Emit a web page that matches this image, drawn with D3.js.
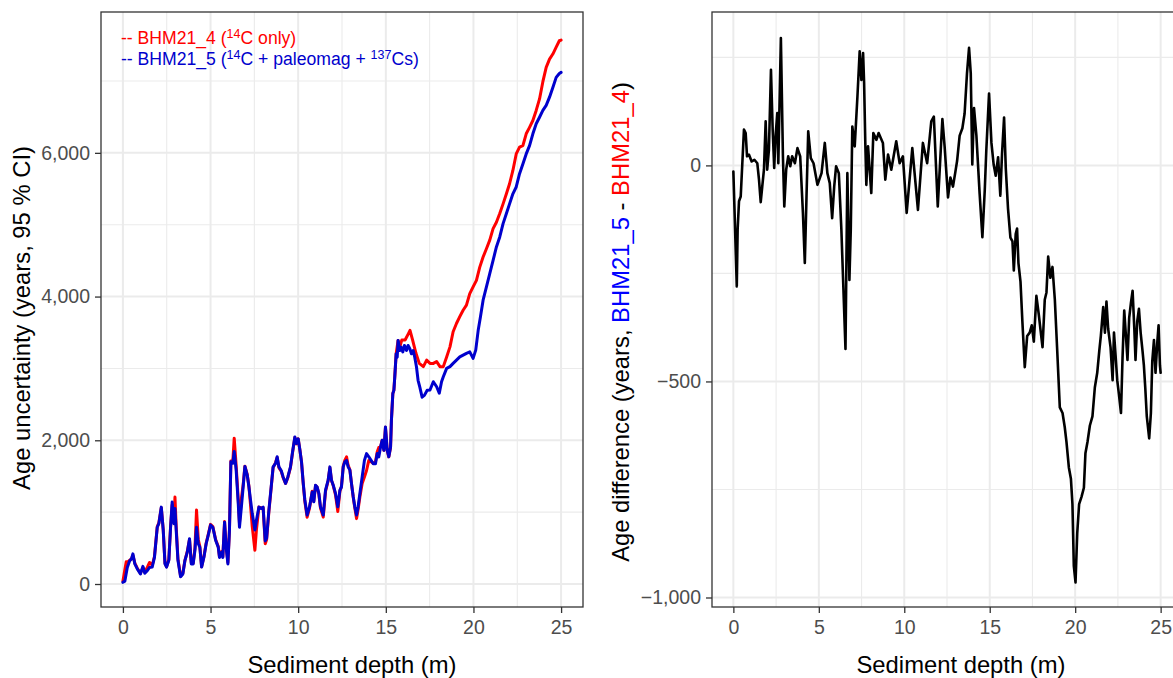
<!DOCTYPE html>
<html>
<head>
<meta charset="utf-8">
<script src="https://cdn.jsdelivr.net/npm/d3@7"></script>
<style>
  html, body { margin: 0; padding: 0; background: #fff; }
  svg { display: block; font-family: "Liberation Sans", Arial, Helvetica, sans-serif; }
</style>
</head>
<body>
<svg id="chart" width="1173" height="678"></svg>
<script>
// Age-depth model comparison: 95 % CI width for two Bayesian models (left)
// and the age difference between them (right).

// ---- BHM21_4 (14C only): depth (m) and age uncertainty (years, 95 % CI)
const depthBHM21_4 = [0,0.11,0.19,0.25,0.38,0.49,0.57,0.68,0.82,1.0,1.14,1.25,1.39,1.52,1.67,1.8,1.96,2.05,2.19,2.3,2.4,2.49,2.62,2.72,2.81,2.91,2.97,3.04,3.14,3.29,3.42,3.54,3.67,3.8,3.9,4.01,4.11,4.2,4.3,4.39,4.49,4.62,4.75,4.87,5.0,5.13,5.29,5.44,5.51,5.63,5.7,5.8,5.89,5.99,6.08,6.16,6.27,6.35,6.46,6.58,6.65,6.77,6.86,6.96,7.09,7.19,7.28,7.38,7.53,7.62,7.76,7.89,8.0,8.12,8.2,8.33,8.46,8.57,8.71,8.8,8.9,9.03,9.14,9.28,9.41,9.56,9.68,9.81,9.9,10.0,10.1,10.19,10.29,10.38,10.51,10.65,10.8,10.89,10.99,11.08,11.18,11.27,11.43,11.56,11.71,11.81,11.9,12.0,12.13,12.26,12.38,12.47,12.57,12.66,12.76,12.85,12.95,13.04,13.14,13.23,13.33,13.42,13.52,13.65,13.78,13.9,14.03,14.16,14.28,14.41,14.51,14.6,14.7,14.79,14.89,14.98,15.08,15.17,15.27,15.32,15.4,15.46,15.51,15.59,15.7,15.8,15.91,16.1,16.29,16.38,16.53,16.72,16.91,17.14,17.33,17.52,17.71,17.9,18.09,18.28,18.47,18.66,18.84,19.03,19.22,19.41,19.6,19.79,19.98,20.17,20.36,20.55,20.74,20.93,21.12,21.31,21.5,21.69,21.88,22.06,22.25,22.44,22.63,22.82,23.01,23.2,23.39,23.58,23.77,23.96,24.15,24.34,24.53,24.72,24.9,25.0];
const ciBHM21_4 = [40,200,310,300,330,350,400,290,220,150,230,170,230,300,260,380,800,850,1060,760,290,240,340,800,1100,870,1210,800,350,110,150,330,450,620,300,290,500,1030,620,520,240,380,570,690,830,800,620,520,380,450,380,870,520,300,760,1710,1700,2030,1650,1180,850,1210,1380,1640,1530,1360,1100,800,470,760,1070,1060,1060,560,620,1010,1340,1620,1690,1760,1620,1570,1480,1400,1480,1620,1830,2040,1950,2020,1860,1700,1390,1150,930,1060,1290,1150,1370,1350,1250,1060,930,1290,1440,1620,1440,1370,1240,1010,1290,1360,1640,1720,1770,1650,1590,1400,1210,1060,910,1040,1210,1400,1490,1580,1720,1700,1680,1700,1840,1900,1910,2000,1860,2180,1860,1770,1900,2280,2650,2700,2880,3205,3390,3300,3395,3395,3485,3530,3395,3210,3070,3025,3115,3070,3070,3095,3025,3025,3160,3300,3510,3625,3720,3810,3880,4040,4135,4225,4410,4550,4665,4785,4945,5035,5155,5290,5430,5570,5755,5985,6080,6100,6265,6355,6450,6590,6750,6990,7190,7305,7375,7470,7560,7570];

// ---- BHM21_5 (14C + paleomag + 137Cs)
const depthBHM21_5 = [0,0.11,0.25,0.38,0.49,0.57,0.68,0.82,1.0,1.14,1.25,1.39,1.52,1.67,1.8,1.96,2.05,2.19,2.3,2.4,2.49,2.62,2.72,2.81,2.91,2.97,3.04,3.14,3.29,3.42,3.54,3.67,3.8,3.9,4.01,4.11,4.2,4.3,4.39,4.49,4.62,4.75,4.87,5.0,5.13,5.29,5.44,5.51,5.63,5.7,5.8,5.89,5.99,6.08,6.16,6.27,6.35,6.46,6.58,6.65,6.77,6.86,6.96,7.09,7.19,7.28,7.38,7.53,7.62,7.76,7.89,8.0,8.12,8.2,8.33,8.46,8.57,8.71,8.8,8.9,9.03,9.14,9.28,9.41,9.56,9.68,9.81,9.9,10.0,10.1,10.19,10.29,10.38,10.51,10.65,10.8,10.89,10.99,11.08,11.18,11.27,11.43,11.56,11.71,11.81,11.9,12.0,12.13,12.26,12.38,12.47,12.57,12.66,12.76,12.85,12.95,13.04,13.14,13.23,13.33,13.42,13.52,13.65,13.78,13.9,14.03,14.16,14.28,14.41,14.51,14.6,14.7,14.79,14.89,14.98,15.08,15.17,15.27,15.32,15.4,15.46,15.51,15.59,15.65,15.7,15.8,15.87,15.97,16.06,16.18,16.27,16.37,16.46,16.56,16.65,16.75,16.84,16.94,17.07,17.2,17.36,17.52,17.71,17.9,18.05,18.18,18.28,18.47,18.66,18.84,19.03,19.22,19.41,19.6,19.79,19.98,20.13,20.27,20.4,20.55,20.74,20.93,21.12,21.31,21.5,21.69,21.88,22.06,22.25,22.44,22.63,22.82,23.01,23.2,23.39,23.58,23.77,23.96,24.15,24.34,24.53,24.72,24.9,25.0];
const ciBHM21_5 = [23,40,230,320,350,420,280,210,140,245,150,185,230,235,370,790,840,1070,750,280,235,330,790,1140,840,1050,750,330,100,140,330,440,630,280,280,470,790,560,510,235,370,560,680,820,790,610,510,370,440,370,860,510,280,750,1700,1680,1845,1590,1120,790,1100,1350,1635,1520,1350,1170,980,750,890,1070,1050,1070,600,640,1030,1350,1630,1680,1770,1630,1580,1490,1400,1490,1630,1840,2045,1955,2020,1860,1700,1400,1170,960,1075,1280,1145,1375,1350,1260,1075,960,1305,1445,1630,1445,1375,1260,1075,1305,1350,1630,1700,1720,1630,1585,1400,1215,1075,960,1075,1260,1490,1720,1815,1770,1720,1675,1675,1815,1770,1905,2000,1860,2185,1860,1770,1905,2280,2650,2695,2880,3205,3155,3390,3250,3295,3230,3320,3250,3320,3275,3205,3250,3155,3020,2835,2740,2600,2625,2695,2700,2815,2745,2655,2815,2885,3000,3025,3070,3115,3160,3185,3210,3230,3140,3255,3530,3720,3950,4135,4320,4505,4690,4830,5015,5155,5290,5430,5525,5710,5845,5985,6100,6265,6405,6495,6590,6660,6775,6910,7050,7105,7120];

// ---- Age difference BHM21_5 - BHM21_4 (years)
const depthDiff = [0,0.2,0.25,0.33,0.43,0.62,0.72,0.8,0.91,1.07,1.23,1.4,1.5,1.6,1.69,1.79,1.89,1.98,2.08,2.2,2.3,2.39,2.47,2.57,2.63,2.78,2.9,2.98,3.09,3.21,3.33,3.44,3.6,3.75,3.91,4.07,4.18,4.28,4.38,4.53,4.69,4.92,5.16,5.35,5.5,5.64,5.78,5.9,6.01,6.17,6.32,6.56,6.67,6.79,6.87,6.96,7.1,7.26,7.39,7.49,7.59,7.65,7.72,7.78,7.88,8.07,8.19,8.37,8.5,8.75,8.89,9.05,9.24,9.53,9.73,9.92,10.14,10.31,10.47,10.8,11.09,11.34,11.58,11.73,11.96,12.23,12.36,12.56,12.7,12.85,12.99,13.09,13.24,13.4,13.53,13.67,13.79,13.89,13.98,14.08,14.22,14.41,14.57,14.71,14.8,14.96,15.1,15.23,15.35,15.49,15.62,15.72,15.84,15.94,16.07,16.21,16.33,16.41,16.52,16.6,16.68,16.8,16.91,17.05,17.19,17.34,17.46,17.58,17.73,17.87,17.99,18.09,18.22,18.32,18.42,18.55,18.67,18.81,18.94,19.1,19.26,19.39,19.49,19.63,19.75,19.84,19.92,20.02,20.12,20.23,20.37,20.51,20.6,20.72,20.86,21.01,21.15,21.29,21.41,21.5,21.64,21.74,21.83,21.93,22.07,22.19,22.27,22.36,22.46,22.56,22.68,22.77,22.87,22.97,23.06,23.16,23.26,23.36,23.46,23.53,23.63,23.73,23.83,23.94,24.02,24.1,24.19,24.33,24.43,24.51,24.61,24.7,24.8,24.88,24.96,25.0];
const ageDiff = [-14,-280,-149,-83,-72,83,75,21,25,9,13,5,-33,-85,-49,-10,102,-10,36,221,83,-6,67,121,5,295,21,-95,-10,21,-2,21,5,40,21,-110,-226,-72,79,17,5,-45,-18,52,-18,-41,-122,-49,-2,-18,-149,-425,-18,-265,-149,90,44,160,264,198,260,191,52,-45,44,-64,75,59,75,52,-33,25,-10,56,5,21,-110,-33,40,-103,52,5,102,113,-95,107,44,-74,-28,-49,-15,10,69,86,120,213,272,213,2,133,69,-66,-166,-57,35,166,52,2,-24,19,-70,27,111,-7,-100,-167,-176,-243,-159,-146,-226,-269,-361,-467,-395,-387,-370,-408,-302,-345,-387,-421,-311,-294,-211,-260,-235,-311,-421,-560,-573,-606,-640,-699,-725,-784,-927,-965,-851,-784,-767,-746,-666,-640,-602,-581,-514,-480,-429,-395,-328,-387,-315,-378,-421,-497,-387,-438,-497,-530,-573,-446,-336,-395,-450,-353,-319,-290,-378,-450,-361,-332,-387,-429,-463,-514,-581,-632,-573,-454,-404,-480,-412,-370,-463,-480];

// ---- Axis breaks
const depthTicks = [0, 5, 10, 15, 20, 25];
const depthMinor = [2.5, 7.5, 12.5, 17.5, 22.5];
const ciTicks = [0, 2000, 4000, 6000];
const ciMinor = [1000, 3000, 5000, 7000];
const diffTicks = [-1000, -500, 0];
const diffMinor = [-750, -250, 250];

const svg = d3.select("#chart");
svg.append("rect").attr("width", 1173).attr("height", 678).attr("fill", "#fff");

const fmt = d3.format(",");
const TICK_FONT = 19.5, TITLE_FONT = 23.8;

function panel(cfg) {
  const { x, y, xTicks, xMinor, yTicks, yMinor } = cfg;
  const [x0, x1] = x.range();
  const [y0, y1] = y.range(); // bottom, top
  const g = svg.append("g");

  // panel background + grid
  g.append("rect").attr("x", x0).attr("y", y1).attr("width", x1 - x0).attr("height", y0 - y1).attr("fill", "#fff");
  g.selectAll(".gx-minor").data(xMinor).join("line")
    .attr("x1", d => x(d)).attr("x2", d => x(d)).attr("y1", y1).attr("y2", y0)
    .attr("stroke", "#ebebeb").attr("stroke-width", 1.1);
  g.selectAll(".gy-minor").data(yMinor).join("line")
    .attr("x1", x0).attr("x2", x1).attr("y1", d => y(d)).attr("y2", d => y(d))
    .attr("stroke", "#ebebeb").attr("stroke-width", 1.1);
  g.selectAll(".gx-major").data(xTicks).join("line")
    .attr("x1", d => x(d)).attr("x2", d => x(d)).attr("y1", y1).attr("y2", y0)
    .attr("stroke", "#ebebeb").attr("stroke-width", 2);
  g.selectAll(".gy-major").data(yTicks).join("line")
    .attr("x1", x0).attr("x2", x1).attr("y1", d => y(d)).attr("y2", d => y(d))
    .attr("stroke", "#ebebeb").attr("stroke-width", 2);

  // data lines
  cfg.series.forEach(s => {
    const pts = s.depth.map((d, i) => [d, s.value[i]]);
    g.append("path").datum(pts)
      .attr("fill", "none").attr("stroke", s.color).attr("stroke-width", s.width)
      .attr("stroke-linejoin", "round").attr("stroke-linecap", "round")
      .attr("d", d3.line().x(p => x(p[0])).y(p => y(p[1])));
  });

  // border
  g.append("rect").attr("x", x0).attr("y", y1).attr("width", x1 - x0).attr("height", y0 - y1)
    .attr("fill", "none").attr("stroke", "#333").attr("stroke-width", 1.3);

  // axes
  const ax = g.append("g").attr("transform", `translate(0,${y0})`)
    .call(d3.axisBottom(x).tickValues(xTicks).tickSize(6).tickPadding(7).tickFormat(d3.format("d")));
  const ay = g.append("g").attr("transform", `translate(${x0},0)`)
    .call(d3.axisLeft(y).tickValues(yTicks).tickSize(6).tickPadding(5).tickFormat(fmt));
  [ax, ay].forEach(a => {
    a.select(".domain").remove();
    a.selectAll(".tick line").attr("stroke", "#333").attr("stroke-width", 1.3);
    a.selectAll(".tick text").attr("fill", "#4d4d4d")
      .style("font-size", TICK_FONT + "px").style("font-family", '"Liberation Sans", Arial, sans-serif');
  });

  // x title
  g.append("text").attr("x", cfg.xTitleX).attr("y", 673).attr("text-anchor", "middle")
    .style("font-size", TITLE_FONT + "px").attr("fill", "#000").text("Sediment depth (m)");
  return g;
}

// ---------- left panel: age uncertainty ----------
const xL = d3.scaleLinear().domain([-1.25, 26.25]).range([101, 583]);
const yL = d3.scaleLinear().domain([-320, 7960]).range([607, 12]);
panel({
  x: xL, y: yL, xTicks: depthTicks, xMinor: depthMinor, yTicks: ciTicks, yMinor: ciMinor,
  xTitleX: 352,
  series: [
    { depth: depthBHM21_4, value: ciBHM21_4, color: "#ff0000", width: 3 },
    { depth: depthBHM21_5, value: ciBHM21_5, color: "#0000cd", width: 3 }
  ]
});
svg.append("text")
  .attr("transform", "translate(30,318) rotate(-90)").attr("text-anchor", "middle")
  .style("font-size", TITLE_FONT + "px").attr("fill", "#000")
  .text("Age uncertainty (years, 95 % CI)");

// legend annotation
const LEG = 17.6, SUP = 12.5;
const leg1 = svg.append("text").attr("x", 121).attr("y", 44).attr("fill", "#ff0000").style("font-size", LEG + "px");
leg1.append("tspan").text("-- BHM21_4 (");
leg1.append("tspan").attr("dy", -6).style("font-size", SUP + "px").text("14");
leg1.append("tspan").attr("dy", 6).text("C only)");
const leg2 = svg.append("text").attr("x", 121).attr("y", 65).attr("fill", "#0000cd").style("font-size", LEG + "px");
leg2.append("tspan").text("-- BHM21_5 (");
leg2.append("tspan").attr("dy", -6).style("font-size", SUP + "px").text("14");
leg2.append("tspan").attr("dy", 6).text("C + paleomag + ");
leg2.append("tspan").attr("dy", -6).style("font-size", SUP + "px").text("137");
leg2.append("tspan").attr("dy", 6).text("Cs)");

// ---------- right panel: age difference ----------
const xR = d3.scaleLinear().domain([-1.25, 26.25]).range([712, 1182]);
const yR = d3.scaleLinear().domain([-1022, 355]).range([607, 12]);
panel({
  x: xR, y: yR, xTicks: depthTicks, xMinor: depthMinor, yTicks: diffTicks, yMinor: diffMinor,
  xTitleX: 961,
  series: [{ depth: depthDiff, value: ageDiff, color: "#000", width: 2.6 }]
});
const yt = svg.append("text")
  .attr("transform", "translate(629,322) rotate(-90)").attr("text-anchor", "middle")
  .style("font-size", TITLE_FONT + "px").attr("fill", "#000");
yt.append("tspan").text("Age difference (years, ");
yt.append("tspan").attr("fill", "#0000ff").text("BHM21_5");
yt.append("tspan").text(" - ");
yt.append("tspan").attr("fill", "#ff0000").text("BHM21_4");
yt.append("tspan").text(")");
</script>
</body>
</html>
